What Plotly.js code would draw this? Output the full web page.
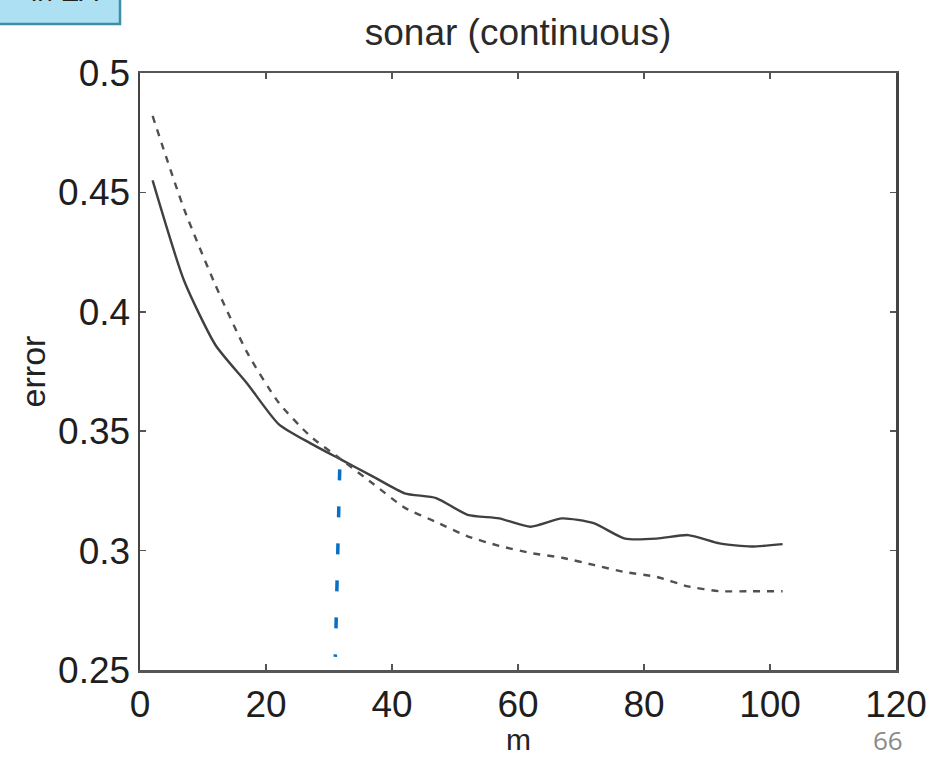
<!DOCTYPE html>
<html>
<head>
<meta charset="utf-8">
<script src="https://cdn.plot.ly/plotly-3.0.1.min.js"></script>
<style>
html,body{margin:0;padding:0;background:#fff;}
#chart{width:951px;height:758px;}
</style>
</head>
<body>
<div id="chart"></div>
<script>
// ---- data ----
const mValues = [2, 7, 12, 17, 22, 27, 32, 37, 42, 47, 52, 57, 62, 67, 72, 77, 82, 87, 92, 97, 102];
const solidError = [0.455, 0.413, 0.386, 0.370, 0.353, 0.345, 0.338, 0.331, 0.324, 0.322, 0.315,
                    0.3135, 0.310, 0.3135, 0.3115, 0.305, 0.305, 0.3065, 0.303, 0.3017, 0.3027];
const dashedError = [0.482, 0.443, 0.411, 0.383, 0.362, 0.348, 0.338, 0.328, 0.318, 0.312, 0.306,
                     0.302, 0.299, 0.297, 0.294, 0.291, 0.289, 0.285, 0.283, 0.283, 0.283];
const xTicks = [0, 20, 40, 60, 80, 100, 120];
const yTicks = [0.25, 0.3, 0.35, 0.4, 0.45, 0.5];
const yTickText = ['0.25', '0.3', '0.35', '0.4', '0.45', '0.5'];
const chartTitle = 'sonar (continuous)';
const xLabel = 'm';
const yLabel = 'error';
const pageNumber = '66';
const boxText = 'in EA';
const markerM = [31.7, 31.0];
const markerErr = [0.334, 0.2555];

// ---- layout helpers ----
const W = 951, H = 758;
const M = {l: 140, r: 55, t: 73, b: 88};
const pw = W - M.l - M.r, ph = H - M.t - M.b;
const px2x = p => (p - M.l) / pw;
const px2y = p => (H - M.b - p) / ph;

const font = 'Liberation Sans, Arial, Helvetica, sans-serif';

const traces = [
  {x: mValues, y: solidError, type: 'scatter', mode: 'lines',
   line: {color: '#404040', width: 2.4, shape: 'spline', smoothing: 0.6}, hoverinfo: 'skip'},
  {x: mValues, y: dashedError, type: 'scatter', mode: 'lines',
   line: {color: '#505050', width: 2.4, dash: '7px,7px', shape: 'spline', smoothing: 0.6}, hoverinfo: 'skip'}
];

const layout = {
  width: W, height: H,
  margin: M,
  paper_bgcolor: '#ffffff', plot_bgcolor: '#ffffff',
  showlegend: false,
  font: {family: font, color: '#222'},
  title: {text: chartTitle, font: {family: font, size: 37, color: '#2a2a2a'},
          x: 0.5, xref: 'paper', xanchor: 'center', y: 1 - 32 / H, yanchor: 'middle'},
  xaxis: {
    range: [0, 120], tickvals: xTicks, ticktext: xTicks.map(String),
    ticks: 'inside', ticklen: 6, tickwidth: 1.5, tickcolor: '#555',
    mirror: 'ticks', showline: true, linecolor: '#555', linewidth: 2.5,
    showgrid: false, zeroline: false,
    tickfont: {family: font, size: 37, color: '#1e1e1e'},
    title: {text: '', font: {family: font, size: 32, color: '#222'}}
  },
  yaxis: {
    range: [0.25, 0.5], tickvals: yTicks, ticktext: yTickText,
    ticks: 'inside', ticklen: 6, tickwidth: 1.5, tickcolor: '#555',
    mirror: 'ticks', showline: true, linecolor: '#444', linewidth: 2.5,
    showgrid: false, zeroline: false,
    tickfont: {family: font, size: 37, color: '#1e1e1e'},
    title: {text: yLabel, font: {family: font, size: 34, color: '#222'}, standoff: 2}
  },
  shapes: [
    // cropped blue box at top-left
    {type: 'rect', xref: 'paper', yref: 'paper',
     x0: px2x(-5), x1: px2x(120), y0: px2y(24), y1: px2y(-5),
     fillcolor: '#ade0f3', line: {color: '#3d8ea6', width: 2.5}},
    // hand drawn blue dashed marker
    {type: 'line', xref: 'x', yref: 'y',
     x0: markerM[0], x1: markerM[1], y0: markerErr[0], y1: markerErr[1],
     line: {color: '#0a6fc4', width: 3.5, dash: '11px,26px'}}
  ],
  annotations: [
    {text: boxText, xref: 'paper', yref: 'paper', x: px2x(100), y: px2y(-8),
     xanchor: 'right', yanchor: 'middle', showarrow: false,
     font: {family: font, size: 28, color: '#222'}},
    {text: xLabel, xref: 'paper', yref: 'paper', x: 0.5, y: px2y(739),
     xanchor: 'center', yanchor: 'middle', showarrow: false,
     font: {family: font, size: 30, color: '#222'}},
    {text: pageNumber, xref: 'paper', yref: 'paper', x: px2x(888), y: px2y(740),
     xanchor: 'center', yanchor: 'middle', showarrow: false,
     font: {family: 'Open Sans, Noto Sans, sans-serif', size: 26, color: '#8a8a8a'}}
  ]
};

Plotly.newPlot('chart', traces, layout, {staticPlot: true, displayModeBar: false});
</script>
</body>
</html>
